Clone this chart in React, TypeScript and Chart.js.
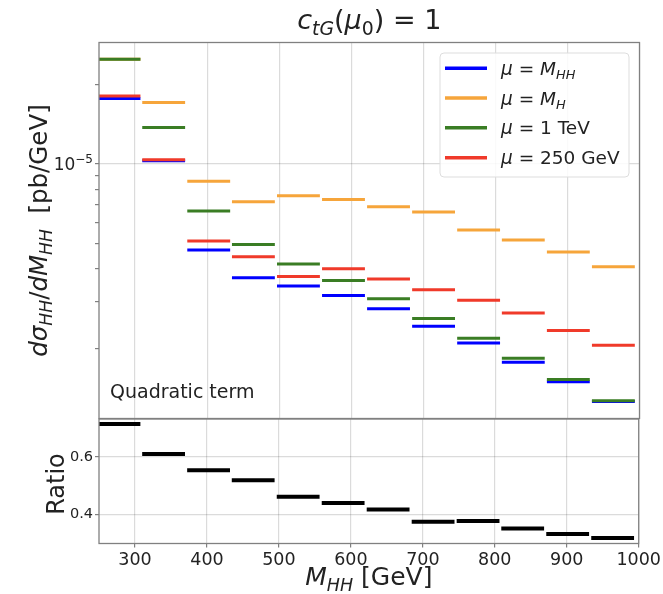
import React, { useEffect, useRef } from "react";
import { Chart, registerables } from "chart.js";

Chart.register(...registerables);

// ---------------- data ----------------
const binLo = [248, 310, 372.5, 434.5, 497, 559.5, 622, 684.5, 747, 809, 871.5, 934];
const binHi = [307.5, 369.5, 432, 494, 556.5, 619, 681.5, 744, 806.5, 868.5, 931, 993.5];

// dsigma/dM_HH [pb/GeV]
const muMHH = [17.67e-6, 10.27e-6, 4.72e-6, 3.71e-6, 3.45e-6, 3.18e-6, 2.83e-6, 2.43e-6, 2.10e-6, 1.776e-6, 1.50e-6, 1.262e-6];
const muMH = [24.9e-6, 17.06e-6, 8.59e-6, 7.19e-6, 7.58e-6, 7.33e-6, 6.88e-6, 6.57e-6, 5.62e-6, 5.15e-6, 4.64e-6, 4.08e-6];
const mu1TeV = [24.9e-6, 13.74e-6, 6.63e-6, 4.95e-6, 4.18e-6, 3.62e-6, 3.09e-6, 2.60e-6, 2.19e-6, 1.84e-6, 1.527e-6, 1.27e-6];
const mu250GeV = [18.07e-6, 10.38e-6, 5.11e-6, 4.45e-6, 3.75e-6, 4.01e-6, 3.67e-6, 3.34e-6, 3.05e-6, 2.73e-6, 2.34e-6, 2.06e-6];

const ratio = [0.714, 0.61, 0.553, 0.518, 0.461, 0.439, 0.4165, 0.374, 0.376, 0.35, 0.331, 0.317];

const xTicks = [300, 400, 500, 600, 700, 800, 900, 1000];
const yMainTicks = [2e-6, 3e-6, 4e-6, 5e-6, 6e-6, 7e-6, 8e-6, 9e-6, 1e-5, 2e-5];
const yMainLabeled = [1e-5];
const yMainLabelText = [{ base: "10", exp: "−5" }];
const yRatioTicks = [0.4, 0.6];

const xMin = 250;
const xMax = 1000;
const yMainMin = 1.088e-6;
const yMainMax = 2.88e-5;
const yRatioMin = 0.298;
const yRatioMax = 0.7315;

// ---------------- styles ----------------
const FAMILY = '"DejaVu Sans"';
const TEXT = "#222222";
const GRID = "rgba(0,0,0,0.14)";
const FRAME = "#808080";
const W = 663;
const H = 594;
const AREA = { left: 99, right: 639.5, top: 42.5, mid: 418.5, ratioTop: 419, bottom: 543.5 };

type Seg = { t: string; it?: boolean; sub?: boolean };

const seriesColors = ["#0000ff", "#f6a53b", "#3a7d24", "#f03a2a"];
const seriesLabels: Seg[][] = [
  [{ t: "μ", it: true }, { t: " = " }, { t: "M", it: true }, { t: "HH", it: true, sub: true }],
  [{ t: "μ", it: true }, { t: " = " }, { t: "M", it: true }, { t: "H", it: true, sub: true }],
  [{ t: "μ", it: true }, { t: " = 1 TeV" }],
  [{ t: "μ", it: true }, { t: " = 250 GeV" }],
];
const seriesValues = [muMHH, muMH, mu1TeV, mu250GeV];

const titleSegs: Seg[] = [
  { t: "c", it: true }, { t: "tG", it: true, sub: true }, { t: "(" }, { t: "μ", it: true },
  { t: "0", sub: true }, { t: ") = 1" },
];
const yLabelSegs: Seg[] = [
  { t: "d", it: true }, { t: "σ", it: true }, { t: "HH", it: true, sub: true }, { t: "/" },
  { t: "d", it: true }, { t: "M", it: true }, { t: "HH", it: true, sub: true }, { t: "  [pb/GeV]" },
];
const xLabelSegs: Seg[] = [{ t: "M", it: true }, { t: "HH", it: true, sub: true }, { t: " [GeV]" }];

function segFont(s: Seg, size: number) {
  return `${s.it ? "italic " : ""}${s.sub ? size * 0.7 : size}px ${FAMILY}`;
}
function richWidth(ctx: CanvasRenderingContext2D, segs: Seg[], size: number) {
  let w = 0;
  for (const s of segs) {
    ctx.font = segFont(s, size);
    w += ctx.measureText(s.t).width;
  }
  return w;
}
function drawRich(
  ctx: CanvasRenderingContext2D, segs: Seg[], x: number, y: number, size: number,
  align: "left" | "center", rot = 0, color = TEXT
) {
  ctx.save();
  ctx.translate(x, y);
  if (rot) ctx.rotate(rot);
  ctx.fillStyle = color;
  ctx.textBaseline = "alphabetic";
  ctx.textAlign = "left";
  let cx = align === "center" ? -richWidth(ctx, segs, size) / 2 : 0;
  for (const s of segs) {
    ctx.font = segFont(s, size);
    ctx.fillText(s.t, cx, s.sub ? size * 0.22 : 0);
    cx += ctx.measureText(s.t).width;
  }
  ctx.restore();
}

function steps(values: number[]) {
  const pts: { x: number; y: number | null }[] = [];
  values.forEach((v, i) => {
    pts.push({ x: binLo[i], y: v }, { x: binHi[i], y: v }, { x: binHi[i], y: null });
  });
  return pts;
}

function frame(ctx: CanvasRenderingContext2D, a: { left: number; top: number; right: number; bottom: number }) {
  ctx.save();
  ctx.strokeStyle = FRAME;
  ctx.lineWidth = 1.3;
  ctx.strokeRect(a.left, a.top, a.right - a.left, a.bottom - a.top);
  ctx.restore();
}

const mainDecor = {
  id: "mainDecor",
  afterDraw(chart: any) {
    const ctx: CanvasRenderingContext2D = chart.ctx;
    const a = chart.chartArea;
    frame(ctx, a);
    const cxm = (a.left + a.right) / 2;
    drawRich(ctx, titleSegs, cxm, 29, 27, "center");
    drawRich(ctx, yLabelSegs, 47, (a.top + a.bottom) / 2, 24.5, "center", -Math.PI / 2);
    // y tick label(s) with superscript exponent
    yMainLabeled.forEach((v, i) => {
      const py = chart.scales.y.getPixelForValue(v);
      const lab = yMainLabelText[i];
      ctx.save();
      ctx.fillStyle = TEXT;
      ctx.textBaseline = "alphabetic";
      ctx.textAlign = "left";
      ctx.font = `12px ${FAMILY}`;
      const ew = ctx.measureText(lab.exp).width;
      ctx.font = `17px ${FAMILY}`;
      const bw = ctx.measureText(lab.base).width;
      const right = a.left - 6;
      ctx.fillText(lab.base, right - ew - bw, py + 6);
      ctx.font = `12px ${FAMILY}`;
      ctx.fillText(lab.exp, right - ew, py - 1);
      ctx.restore();
    });
    ctx.save();
    ctx.font = `19px ${FAMILY}`;
    ctx.fillStyle = TEXT;
    ctx.fillText("Quadratic term", 110, 398);
    ctx.restore();
    // legend
    const lx = 440, ly = 53, lw = 189, lh = 124;
    ctx.save();
    ctx.beginPath();
    (ctx as any).roundRect(lx, ly, lw, lh, 4);
    ctx.fillStyle = "rgba(255,255,255,0.85)";
    ctx.fill();
    ctx.strokeStyle = "#dddddd";
    ctx.lineWidth = 1;
    ctx.stroke();
    ctx.restore();
    const rows = [68.3, 98, 127.7, 157.7];
    seriesLabels.forEach((lab, i) => {
      ctx.save();
      ctx.strokeStyle = seriesColors[i];
      ctx.lineWidth = 3.5;
      ctx.beginPath();
      ctx.moveTo(445, rows[i]);
      ctx.lineTo(487, rows[i]);
      ctx.stroke();
      ctx.restore();
      drawRich(ctx, lab, 501, rows[i] + 6.5, 18.5, "left");
    });
  },
};

const ratioDecor = {
  id: "ratioDecor",
  afterDraw(chart: any) {
    const ctx: CanvasRenderingContext2D = chart.ctx;
    const a = chart.chartArea;
    frame(ctx, a);
    drawRich(ctx, [{ t: "Ratio" }], 64, 484, 24, "center", -Math.PI / 2);
    drawRich(ctx, xLabelSegs, (a.left + a.right) / 2, 585, 25, "center");
  },
};

export default function App() {
  const mainRef = useRef<HTMLCanvasElement>(null);
  const ratioRef = useRef<HTMLCanvasElement>(null);

  useEffect(() => {
    document.body.style.margin = "0";

    const main = new Chart(mainRef.current as HTMLCanvasElement, {
      type: "line",
      data: {
        datasets: seriesValues.map((vals, i) => ({
          data: steps(vals),
          borderColor: seriesColors[i],
          borderWidth: 3,
          pointRadius: 0,
          spanGaps: false,
          clip: 0,
          order: 4 - i,
        })),
      },
      options: {
        animation: false,
        responsive: false,
        devicePixelRatio: 1,
        layout: { padding: { left: 0, right: W - AREA.right, top: AREA.top, bottom: H - AREA.mid } },
        plugins: { legend: { display: false }, tooltip: { enabled: false } },
        scales: {
          x: {
            type: "linear",
            min: xMin,
            max: xMax,
            afterBuildTicks: (s: any) => { s.ticks = xTicks.map((v) => ({ value: v })); },
            ticks: { display: false },
            grid: { color: GRID, lineWidth: 1.2, drawTicks: false },
            border: { display: false },
            afterFit: (s: any) => { s.height = 0; },
          },
          y: {
            type: "logarithmic",
            min: yMainMin,
            max: yMainMax,
            afterBuildTicks: (s: any) => { s.ticks = yMainTicks.map((v) => ({ value: v })); },
            ticks: {
              autoSkip: false,
              font: { family: FAMILY, size: 16 },
              color: TEXT,
              padding: 3,
              callback: () => "",
            },
            grid: {
              color: (c: any) => (c.tick && yMainLabeled.includes(c.tick.value) ? GRID : "rgba(0,0,0,0)"),
              tickColor: FRAME,
              tickLength: 4,
              lineWidth: 1.2,
            },
            border: { display: false },
            afterFit: (s: any) => { s.width = AREA.left; },
          },
        },
      } as any,
      plugins: [mainDecor],
    });

    const rat = new Chart(ratioRef.current as HTMLCanvasElement, {
      type: "line",
      data: {
        datasets: [
          {
            data: steps(ratio),
            borderColor: "#000000",
            borderWidth: 4,
            pointRadius: 0,
            spanGaps: false,
            clip: 0,
          },
        ],
      },
      options: {
        animation: false,
        responsive: false,
        devicePixelRatio: 1,
        layout: { padding: { left: 0, right: W - AREA.right, top: AREA.ratioTop, bottom: 0 } },
        plugins: { legend: { display: false }, tooltip: { enabled: false } },
        scales: {
          x: {
            type: "linear",
            min: xMin,
            max: xMax,
            afterBuildTicks: (s: any) => { s.ticks = xTicks.map((v) => ({ value: v })); },
            ticks: {
              autoSkip: false, maxRotation: 0, font: { family: FAMILY, size: 17.5 }, color: TEXT, padding: 2,
              callback: (v: any) => String(v),
            },
            grid: { color: GRID, lineWidth: 1.2, tickColor: FRAME, tickLength: 4 },
            border: { display: false },
            afterFit: (s: any) => { s.height = H - AREA.bottom; },
          },
          y: {
            type: "linear",
            min: yRatioMin,
            max: yRatioMax,
            afterBuildTicks: (s: any) => { s.ticks = yRatioTicks.map((v) => ({ value: v })); },
            ticks: {
              autoSkip: false, font: { family: FAMILY, size: 14.5 }, color: TEXT, padding: 2,
              callback: (v: any) => Number(v).toFixed(1),
            },
            grid: { color: GRID, lineWidth: 1.2, tickColor: FRAME, tickLength: 4 },
            border: { display: false },
            afterFit: (s: any) => { s.width = AREA.left; },
          },
        },
      } as any,
      plugins: [ratioDecor],
    });

    return () => {
      main.destroy();
      rat.destroy();
    };
  }, []);

  const cs: React.CSSProperties = { position: "absolute", left: 0, top: 0, width: W, height: H };
  return (
    <div style={{ position: "relative", width: W, height: H }}>
      <canvas ref={mainRef} width={W} height={H} style={cs} />
      <canvas ref={ratioRef} width={W} height={H} style={cs} />
    </div>
  );
}
